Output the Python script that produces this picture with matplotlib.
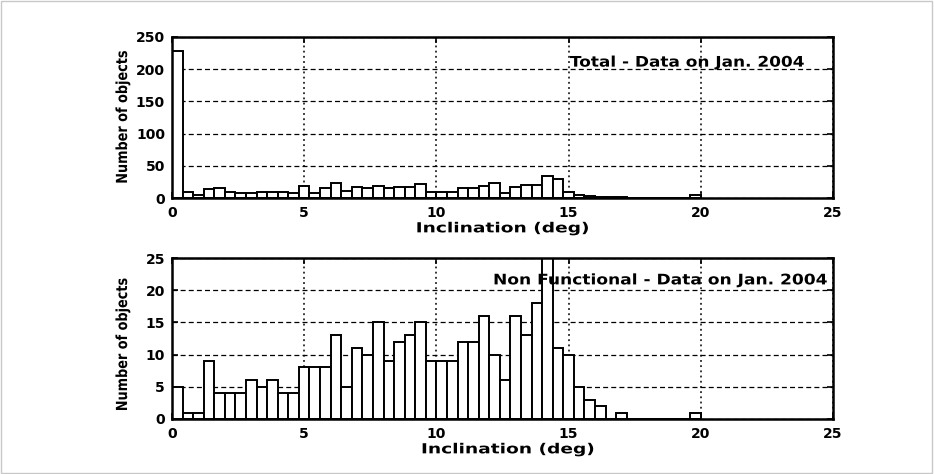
import numpy as np
import matplotlib
matplotlib.use("Agg")
import matplotlib.pyplot as plt
from matplotlib.patches import Rectangle
from matplotlib.patheffects import AbstractPathEffect
from matplotlib.transforms import Affine2D

plt.rcParams['font.family'] = ['DejaVu Sans']
plt.rcParams['font.weight'] = 'bold'

# Histogram bins: 50 bins of inclination from 0 to 20 deg
bin_edges = np.linspace(0.0, 20.0, 51)

total_counts = [229, 9, 5, 14, 15, 9, 7, 8, 10, 9,
                10, 8, 19, 8, 15, 23, 11, 17, 15, 19,
                16, 17, 17, 21, 10, 10, 10, 15, 15, 18,
                23, 8, 17, 20, 20, 34, 29, 10, 5, 3,
                2, 1, 2, 0, 0, 0, 0, 0, 0, 5]

nonfunctional_counts = [5, 1, 1, 9, 4, 4, 4, 6, 5, 6,
                        4, 4, 8, 8, 8, 13, 5, 11, 10, 15,
                        9, 12, 13, 15, 9, 9, 9, 12, 12, 16,
                        10, 6, 16, 13, 18, 28, 11, 10, 5, 3,
                        2, 0, 1, 0, 0, 0, 0, 0, 0, 1]

x_ticks = [0, 5, 10, 15, 20, 25]
total_yticks = [0, 50, 100, 150, 200, 250]
nonfunc_yticks = [0, 5, 10, 15, 20, 25]


class Stretch(AbstractPathEffect):
    """Stretch glyph outlines along the text direction."""

    def __init__(self, sx, anchor='center'):
        super().__init__()
        self.sx = sx
        self.anchor = anchor

    def draw_path(self, renderer, gc, tpath, affine, rgbFace=None):
        ext = tpath.get_extents()
        cx = ext.x0 if self.anchor == 'left' else 0.5 * (ext.x0 + ext.x1)
        st = Affine2D().translate(-cx, 0).scale(self.sx, 1.0).translate(cx, 0)
        renderer.draw_path(gc, tpath, st + affine, rgbFace)


W, H = 934, 474
fig = plt.figure(figsize=(W / 100, H / 100), dpi=100)
fig.patch.set_facecolor('white')
fig.patches.append(Rectangle((0.001, 0.002), 0.997, 0.996, transform=fig.transFigure,
                             fill=False, edgecolor='#c8c8c8', linewidth=1.0))


def panel(rect, counts, yticks, xlabel_x, ylabel_y):
    ax = fig.add_axes(rect)
    widths = np.diff(bin_edges)
    ax.bar(bin_edges[:-1], counts, width=widths, align='edge',
           facecolor='white', edgecolor='black', linewidth=1.4, zorder=3)
    ax.set_xlim(0, 25)
    ax.set_ylim(yticks[0], yticks[-1])
    ax.set_xticks(x_ticks)
    ax.set_yticks(yticks)
    ax.tick_params(direction='in', length=4, width=1.2, top=True, right=True,
                   labelsize=10)
    ax.tick_params(axis='x', pad=6)
    ax.tick_params(axis='y', pad=5)
    for t in ax.get_xticklabels() + ax.get_yticklabels():
        t.set_fontweight('bold')
    for s in ax.spines.values():
        s.set_linewidth(1.8)
        s.set_zorder(4)
    ax.xaxis.grid(True, linestyle=(0, (1.2, 2.2)), color='black', linewidth=1.1, zorder=1)
    ax.yaxis.grid(True, linestyle=(0, (4, 2.5)), color='black', linewidth=0.9, zorder=1)
    ax.set_axisbelow(True)
    xl = ax.set_xlabel('Inclination (deg)', fontsize=10, fontweight='bold')
    xl.set_path_effects([Stretch(1.34)])
    ax.xaxis.set_label_coords(xlabel_x, -0.145)
    yl = ax.set_ylabel('Number of objects', fontsize=11, fontweight='bold')
    yl.set_path_effects([Stretch(0.84)])
    ax.yaxis.set_label_coords(-0.0635, ylabel_y)
    return ax


ax1 = panel([172 / W, 1 - 198 / H, 661 / W, 161 / H], total_counts, total_yticks,
            0.5, 0.5)
ann1 = ax1.text(15.05, 211, 'Total - Data on Jan. 2004', fontsize=10.5,
                fontweight='bold', ha='left', va='center', zorder=5)
ann1.set_path_effects([Stretch(1.16, anchor='left')])

ax2 = panel([172 / W, 1 - 419 / H, 661 / W, 161 / H], nonfunctional_counts, nonfunc_yticks,
            0.508, 0.46)
ann2 = ax2.text(12.15, 21.6, 'Non Functional - Data on Jan. 2004', fontsize=10.5,
                fontweight='bold', ha='left', va='center', zorder=5)
ann2.set_path_effects([Stretch(1.17, anchor='left')])

fig.savefig('out.png', dpi=100)
